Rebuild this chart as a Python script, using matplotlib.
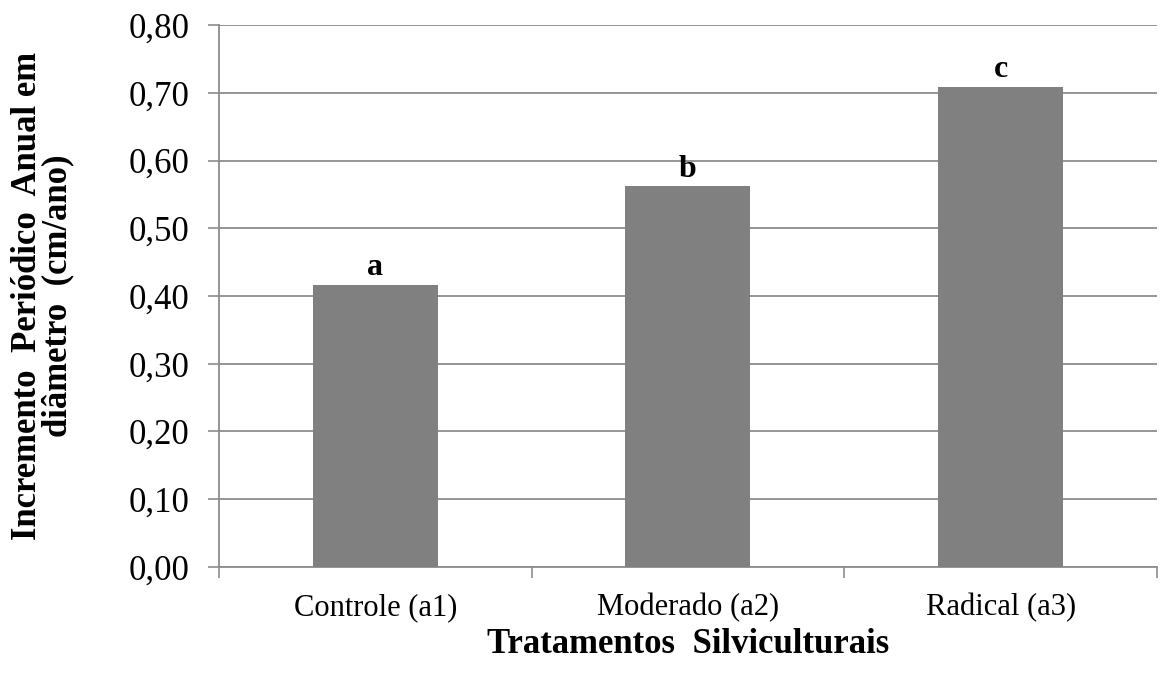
import numpy as np
import matplotlib
matplotlib.use("Agg")
import matplotlib.pyplot as plt

plt.rcParams['font.family'] = ['Liberation Serif', 'DejaVu Serif']

# dados
categorias = ["Controle (a1)", "Moderado (a2)", "Radical (a3)"]
valores = [0.416, 0.562, 0.709]
letras = ["a", "b", "c"]
yticks = [0.0, 0.1, 0.2, 0.3, 0.4, 0.5, 0.6, 0.7, 0.8]

fig = plt.figure(figsize=(11.71, 6.86), dpi=100)
ax = fig.add_axes([0.187, 0.1735, 0.801, 0.79])

x = np.arange(len(categorias))
ax.bar(x, valores, width=0.4, color='#808080', zorder=3)

for xi, v, l in zip(x, valores, letras):
    ax.text(xi, v + 0.004, l, ha='center', va='bottom', fontsize=23,
            fontweight='bold')

ax.set_xlim(-0.5, 2.5)
ax.set_ylim(0, 0.8)
ax.set_yticks(yticks)
ax.set_yticklabels([f"{t:.2f}".replace('.', ',') for t in yticks])
ax.yaxis.grid(True, color='#8c8c8c', linewidth=1.3, zorder=0)

ax.set_xticks(x)
ax.set_xticklabels(categorias)
ax.set_xticks([-0.5, 0.5, 1.5, 2.5], minor=True)
ax.tick_params(axis='x', which='major', length=0, pad=19, labelsize=22)
ax.tick_params(axis='x', which='minor', length=8, color='#8c8c8c', width=1.2)
ax.tick_params(axis='y', length=8, color='#8c8c8c', width=1.2, labelsize=25,
               pad=13)

for s in ['top', 'right']:
    ax.spines[s].set_visible(False)
for s in ['left', 'bottom']:
    ax.spines[s].set_color('#8c8c8c')
    ax.spines[s].set_linewidth(1.3)

ax.set_xlabel("Tratamentos  Silviculturais", fontsize=25, fontweight='bold',
              labelpad=4)
ax.set_ylabel("Incremento  Periódico  Anual em\ndiâmetro  (cm/ano)", fontsize=25,
              fontweight='bold', labelpad=39, linespacing=0.9)

fig.savefig("out.png", dpi=100)
